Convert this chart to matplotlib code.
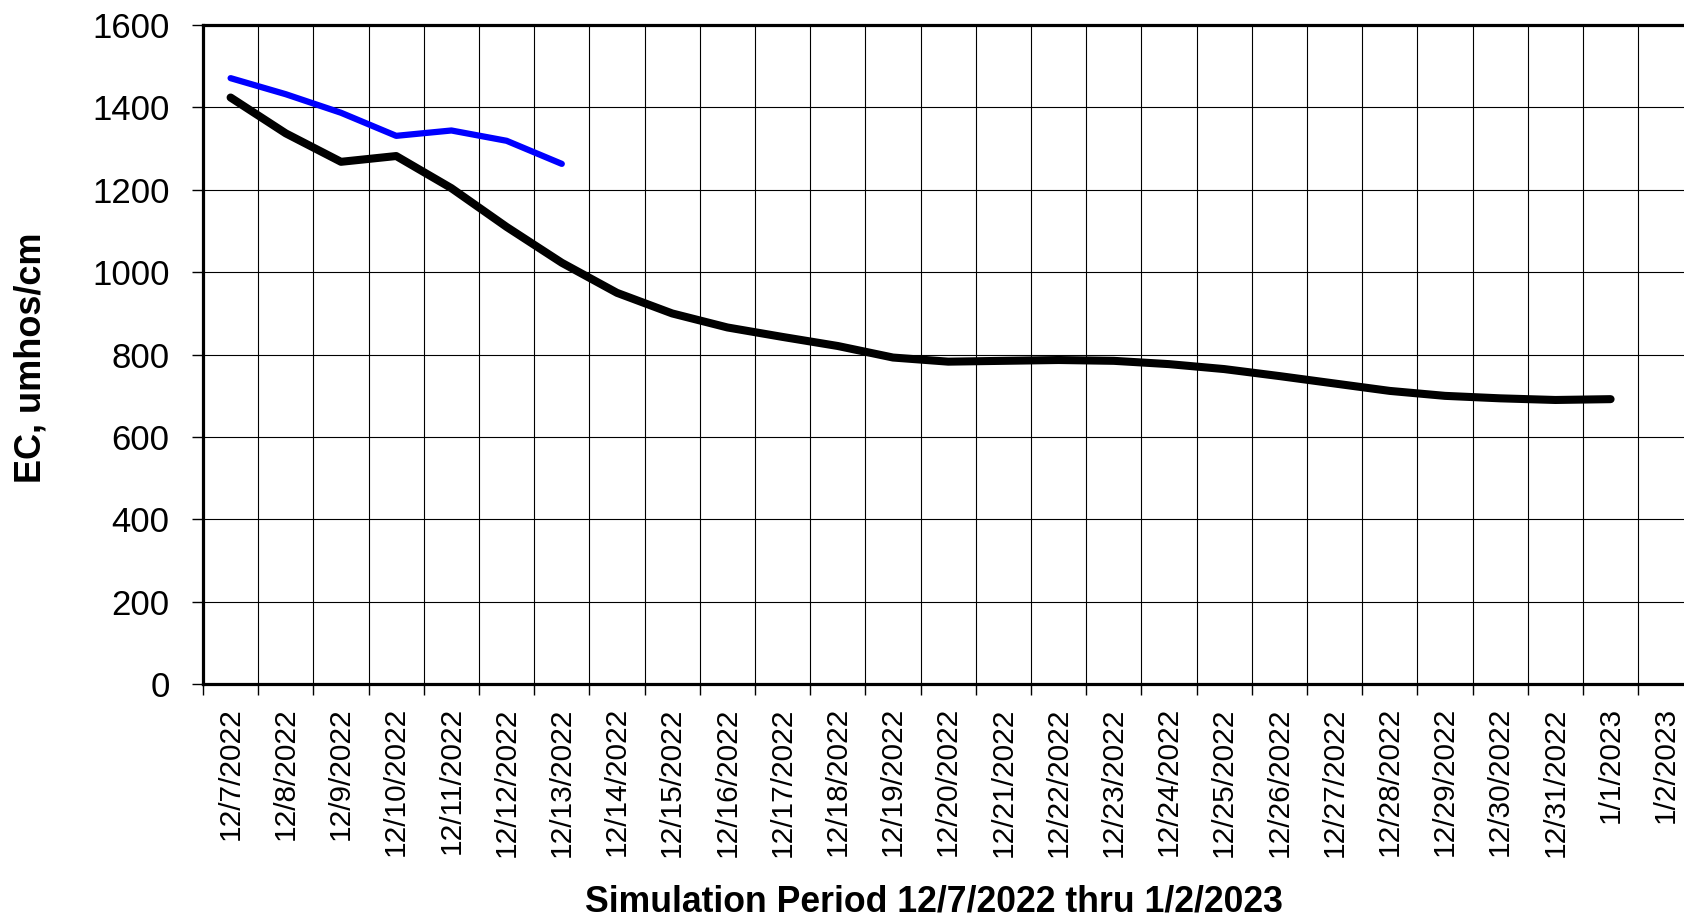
import matplotlib
matplotlib.use("Agg")
import matplotlib.pyplot as plt
from matplotlib.ticker import FixedLocator, NullFormatter

plt.rcParams['font.family'] = ['Liberation Sans', 'DejaVu Sans']

# dates on the x axis (one category per day)
dates = ['12/7/2022', '12/8/2022', '12/9/2022', '12/10/2022', '12/11/2022',
         '12/12/2022', '12/13/2022', '12/14/2022', '12/15/2022', '12/16/2022',
         '12/17/2022', '12/18/2022', '12/19/2022', '12/20/2022', '12/21/2022',
         '12/22/2022', '12/23/2022', '12/24/2022', '12/25/2022', '12/26/2022',
         '12/27/2022', '12/28/2022', '12/29/2022', '12/30/2022', '12/31/2022',
         '1/1/2023', '1/2/2023']

# simulated EC (black) - runs through 1/1/2023
simulated_ec = [1424, 1337, 1268, 1282, 1204, 1110, 1023, 950, 900, 866,
                843, 821, 793, 783, 785, 787, 785, 777, 765, 748,
                730, 712, 700, 694, 690, 692]

# observed EC (blue) - first week only
observed_ec = [1471, 1432, 1387, 1331, 1344, 1319, 1263]

y_ticks = [0, 200, 400, 600, 800, 1000, 1200, 1400, 1600]

fig = plt.figure(figsize=(16.84, 9.19), dpi=100)
# axes runs past the right edge of the figure, like the original
ax = fig.add_axes([203 / 1684, 1 - 684.3 / 919, 1490.4 / 1684, 659.3 / 919])

x_sim = list(range(len(simulated_ec)))
x_obs = list(range(len(observed_ec)))
ax.plot(x_sim, simulated_ec, color='black', lw=5.8, solid_capstyle='round',
        solid_joinstyle='round', zorder=4)
ax.plot(x_obs, observed_ec, color='#0000FF', lw=4.5, solid_capstyle='round',
        solid_joinstyle='round', zorder=5)

n = len(dates)
ax.set_xlim(-0.5, n - 0.5)
ax.set_ylim(0, 1600)

# major x ticks on category boundaries (gridlines), labels at category centres
ax.xaxis.set_major_locator(FixedLocator([k - 0.5 for k in range(n + 1)]))
ax.xaxis.set_major_formatter(NullFormatter())
ax.set_xticks(list(range(n)), dates, minor=True, rotation=90, fontsize=21.5)
ax.tick_params(axis='x', which='major', direction='out', length=8, width=1)
ax.tick_params(axis='x', which='minor', length=0, pad=16.5, labelsize=21.5)

ax.set_yticks(y_ticks)
ax.tick_params(axis='y', direction='out', length=8, width=1, pad=16, labelsize=25)

ax.grid(True, which='major', color='black', lw=0.8)
ax.set_axisbelow(True)

for side in ['left', 'top', 'bottom']:
    ax.spines[side].set_linewidth(2.3)
ax.spines['right'].set_visible(False)

fig.text(31 / 1684, 1 - 357.5 / 919, 'EC, umhos/cm', rotation=90,
         ha='center', va='center', fontsize=26, fontweight='bold')
fig.text(934 / 1684, 1 - 911 / 919, 'Simulation Period 12/7/2022 thru 1/2/2023',
         ha='center', va='baseline', fontsize=25.7, fontweight='bold')

fig.savefig('out.png', dpi=100)
